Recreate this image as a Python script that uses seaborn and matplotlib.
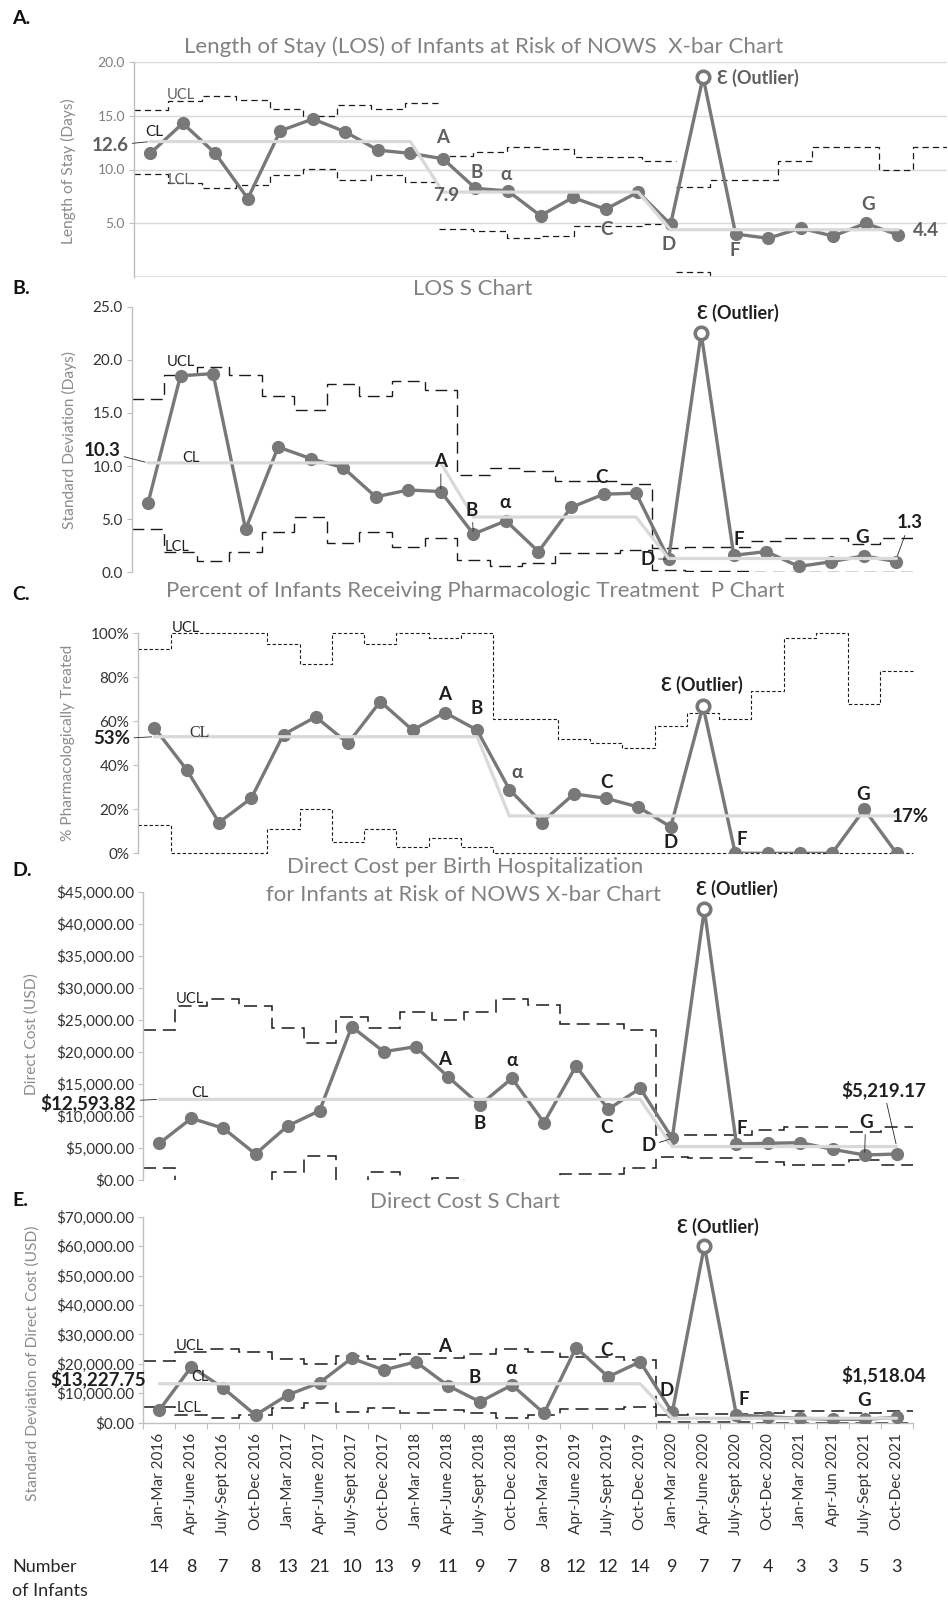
import numpy as np
import pandas as pd
import matplotlib
matplotlib.use("Agg")
import matplotlib.pyplot as plt
import matplotlib.ticker as mticker
import matplotlib.transforms as mtransforms
import seaborn as sns

sns.set_style("white")
plt.rcParams["font.family"] = ["Lato", "DejaVu Sans"]
plt.rcParams["axes.unicode_minus"] = False

# ---------------------------------------------------------------- data
quarters = ["Jan-Mar 2016", "Apr-June 2016", "July-Sept 2016", "Oct-Dec 2016",
            "Jan-Mar 2017", "Apr-June 2017", "July-Sept 2017", "Oct-Dec 2017",
            "Jan-Mar 2018", "Apr-June 2018", "July-Sept 2018", "Oct-Dec 2018",
            "Jan-Mar 2019", "Apr-June 2019", "July-Sept 2019", "Oct-Dec 2019",
            "Jan-Mar 2020", "Apr-June 2020", "July-Sept 2020", "Oct-Dec 2020",
            "Jan-Mar 2021", "Apr-Jun 2021", "July-Sept 2021", "Oct-Dec 2021"]
n_infants = [14, 8, 7, 8, 13, 21, 10, 13, 9, 11, 9, 7, 8, 12, 12, 14, 9, 7, 7, 4, 3, 3, 5, 3]

# A. length of stay, X-bar chart (days)
los_mean = [11.5, 14.3, 11.5, 7.3, 13.6, 14.7, 13.5, 11.8, 11.5, 11.0, 8.25, 8.0,
            5.7, 7.4, 6.3, 7.9, 4.9, 18.6, 4.0, 3.6, 4.55, 3.8, 5.0, 3.9]
los_mean_cl = [12.6, 12.6, 12.6, 12.6, 12.6, 12.6, 12.6, 12.6, 12.6, 7.9, 7.9, 7.9,
               7.9, 7.9, 7.9, 7.9, 4.4, 4.4, 4.4, 4.4, 4.4, 4.4, 4.4, 4.4]
los_mean_ucl = [15.5, 16.4, 16.8, 16.5, 15.6, 15.0, 16.0, 15.6, 16.2, 11.3, 11.6, 12.1,
                11.9, 11.15, 11.15, 10.8, 8.35, 9.0, 9.0, 10.8, 12.1, 12.1, 10.0, 12.1]
los_mean_lcl = [9.6, 8.7, 8.3, 8.6, 9.5, 10.05, 9.05, 9.5, 8.8, 4.45, 4.25, 3.6,
                3.85, 4.7, 4.7, 4.9, 0.5, -0.2, -0.2, -2.0, -3.3, -3.3, -1.2, -3.3]
los_mean_phases = [0, 9, 16, 24]

# B. length of stay, S chart (days)
los_sd = [6.5, 18.5, 18.7, 4.05, 11.8, 10.7, 9.85, 7.1, 7.75, 7.6, 3.6, 4.85,
          1.95, 6.1, 7.35, 7.45, 1.25, 22.5, 1.6, 1.95, 0.55, 1.0, 1.55, 1.0]
los_sd_cl = [10.3, 10.3, 10.3, 10.3, 10.3, 10.3, 10.3, 10.3, 10.3, 10.3, 5.2, 5.2,
             5.2, 5.2, 5.2, 5.2, 1.3, 1.3, 1.3, 1.3, 1.3, 1.3, 1.3, 1.3]
los_sd_ucl = [16.3, 18.6, 19.35, 18.6, 16.6, 15.25, 17.7, 16.6, 18.05, 17.2, 9.2, 9.8,
              9.5, 8.6, 8.6, 8.3, 2.25, 2.4, 2.4, 2.9, 3.2, 3.2, 2.7, 3.2]
los_sd_lcl = [4.1, 1.95, 1.1, 1.95, 3.8, 5.2, 2.8, 3.8, 2.35, 3.25, 1.15, 0.55,
              0.85, 1.8, 1.8, 2.1, 0.2, 0.15, 0.15, 0.0, 0.0, 0.0, 0.0, 0.0]

# C. percent pharmacologically treated, P chart
pct_treated = [57, 38, 14, 25, 54, 62, 50, 69, 56, 64, 56, 29,
               14, 27, 25, 21, 12, 67, 0, 0, 0, 0, 20, 0]
pct_cl = [53, 53, 53, 53, 53, 53, 53, 53, 53, 53, 53, 17,
          17, 17, 17, 17, 17, 17, 17, 17, 17, 17, 17, 17]
pct_ucl = [93, 100, 100, 100, 95, 86, 100, 95, 100, 98, 100, 61,
           61, 52, 50, 48, 58, 64, 61, 74, 98, 100, 68, 83]
pct_lcl = [13, 0, 0, 0, 11, 20, 5, 11, 3, 7, 3, 0,
           0, 0, 0, 0, 0, 0, 0, 0, 0, 0, 0, 0]

# D. direct cost per birth hospitalization, X-bar chart (USD)
cost_mean = [5730, 9630, 8070, 4060, 8430, 10820, 23930, 20030, 20810, 16130, 11710, 15870,
             8950, 17800, 11040, 14310, 6510, 42260, 5620, 5730, 5830, 4790, 3900, 4060]
cost_mean_cl = [12593.82, 12593.82, 12593.82, 12593.82, 12593.82, 12593.82, 12593.82, 12593.82,
                12593.82, 12593.82, 12593.82, 12593.82, 12593.82, 12593.82, 12593.82, 12593.82,
                5219.17, 5219.17, 5219.17, 5219.17, 5219.17, 5219.17, 5219.17, 5219.17]
cost_mean_ucl = [23400, 27100, 28200, 27100, 23800, 21400, 25500, 23800, 26300, 24900, 26300, 28300,
                 27300, 24400, 24400, 23400, 7000, 7000, 7000, 7800, 8300, 8300, 7500, 8300]
cost_mean_lcl = [1800, -1900, -3000, -1900, 1300, 3800, -300, 1300, -1100, 300, -1100, -3000,
                 -1900, 1000, 1000, 1800, 3640, 3380, 3380, 2860, 2340, 2340, 3070, 2340]

# E. direct cost, S chart (USD)
cost_sd = [4300, 19000, 11700, 2600, 9400, 13600, 21900, 17900, 20700, 12600, 7100, 12800,
           3200, 25500, 15600, 20700, 3500, 60000, 2700, 2000, 1500, 1150, 1150, 1800]
cost_sd_cl = [13227.75, 13227.75, 13227.75, 13227.75, 13227.75, 13227.75, 13227.75, 13227.75,
              13227.75, 13227.75, 13227.75, 13227.75, 13227.75, 13227.75, 13227.75, 13227.75,
              1518.04, 1518.04, 1518.04, 1518.04, 1518.04, 1518.04, 1518.04, 1518.04]
cost_sd_ucl = [21100, 24000, 25000, 24000, 21500, 19800, 22800, 21500, 23300, 22100, 23300, 25000,
               24100, 22200, 22200, 21200, 2700, 2900, 2900, 3400, 3900, 3900, 3200, 3900]
cost_sd_lcl = [5400, 2500, 1600, 2500, 5100, 6800, 3800, 5100, 3200, 4300, 3200, 1600,
               2500, 4700, 4700, 5400, 360, 180, 180, 0, 0, 0, 0, 0]

OUTLIER = 17

# ---------------------------------------------------------------- style
W, H, DPI = 948, 1602, 100
PT = 72.0 / DPI
SERIES = "#787878"
CL_GREY = "#d9d9d9"
SPINE = "#bfbfbf"
LIMIT = "#1a1a1a"
INK = "#1f1f1f"
SOFT_INK = "#5f5f5f"
TITLE = "#828282"
LABEL = "#8c8c8c"
TAG = 13.5        # size of the bold point letters
EPS_SIZE = 13

fig = plt.figure(figsize=(W / DPI, H / DPI), dpi=DPI)
fig.patch.set_facecolor("white")


def axes_px(left, right, top, bottom):
    return fig.add_axes([left / W, 1 - bottom / H, (right - left) / W, (bottom - top) / H])


def style_axes(ax, yticks, fmt, tick_color, tick_size, xmax=23.5):
    ax.set_xlim(-0.5, xmax)
    ax.set_yticks(yticks)
    ax.yaxis.set_major_formatter(mticker.FuncFormatter(fmt))
    ax.tick_params(axis="y", colors=SPINE, labelcolor=tick_color, labelsize=tick_size,
                   length=3.5, width=0.8, direction="out", pad=3, left=True)
    ax.tick_params(axis="x", bottom=False, labelbottom=False)
    for side in ("top", "right", "bottom"):
        ax.spines[side].set_visible(False)
    ax.spines["left"].set_color(SPINE)
    ax.spines["left"].set_linewidth(1.0)
    ax.set_xlabel("")
    ax.set_ylabel("")
    ax.grid(False)


def draw_series(ax, values, centre):
    frame = pd.DataFrame({"quarter": np.arange(len(values)), "value": values, "centre": centre})
    sns.lineplot(data=frame, x="quarter", y="value", ax=ax, color=SERIES, linewidth=2.4,
                 marker="o", markersize=9.5, markeredgewidth=0, sort=False, zorder=3)
    sns.lineplot(data=frame, x="quarter", y="centre", ax=ax, color=CL_GREY, linewidth=2.3,
                 sort=False, zorder=4)
    out = frame.iloc[[OUTLIER]]
    ax.plot(out["quarter"], out["value"], ls="none", marker="o", ms=9, mfc="white",
            mec=SERIES, mew=2.6, zorder=5)
    ax.set_xlabel("")
    ax.set_ylabel("")


def draw_limits(ax, upper, lower, style, phases=None, offset=-0.5, clip=True):
    if phases is None:
        phases = [0, len(upper)]
    for a, b in zip(phases[:-1], phases[1:]):
        edges = np.arange(a, b + 1) + offset
        for lim in (upper, lower):
            ax.stairs(lim[a:b], edges, baseline=None, color=LIMIT, clip_on=clip,
                      zorder=2, **style)


def note(ax, text, xy, dx, dy, color=INK, size=TAG, weight="bold", ha="center",
         leader=False, family=None):
    props = None
    if leader:
        props = dict(arrowstyle="-", color="#262626", lw=0.6, shrinkA=0.5, shrinkB=2)
    kw = {}
    if family is not None:
        kw["family"] = family
    ax.annotate(text, xy=xy, xytext=(dx * PT, -dy * PT), textcoords="offset points",
                ha=ha, va="center", color=color, fontsize=size, fontweight=weight,
                arrowprops=props, annotation_clip=False, zorder=6, **kw)


def one_dec(v, _):
    return f"{v:.1f}"


def dollars(v, _):
    return f"${v:,.2f}"


def percent(v, _):
    return f"{v:.0f}%"


EPS = "\u0190 (Outlier)"

# ---------------------------------------------------------------- A
axA = axes_px(134, 947, 62, 277)
limA = axA.twiny()
limA.set_xlim(0, 24)
limA.axis("off")
axA.set_zorder(limA.get_zorder() + 1)
axA.patch.set_visible(False)
draw_series(axA, los_mean, los_mean_cl)
draw_limits(limA, los_mean_ucl, los_mean_lcl,
            dict(linewidth=0.9, linestyle=(0, (5, 3.3))), phases=los_mean_phases, offset=0)
style_axes(axA, [5, 10, 15, 20], one_dec, "#7f7f7f", 10, xmax=24.5)
axA.set_ylim(0, 20)
# gridlines sit on the limit layer, underneath the dashed limits
for g in (5, 10, 15, 20):
    limA.axhline(g, color=CL_GREY, lw=1.0, zorder=0)
limA.axhline(0, color=CL_GREY, lw=1.2, zorder=0)
note(axA, "12.6", (0, los_mean_cl[0]), -22, 4, color=SOFT_INK, size=13.5, ha="right", leader=True)
note(axA, "CL", (0, los_mean_cl[0]), 4, -10, color=INK, size=11, weight="normal")
note(axA, "UCL", (1, los_mean_ucl[1]), -2, -5.5, color=SOFT_INK, size=10.5, weight="normal")
note(axA, "LCL", (1, los_mean_lcl[1]), -3, -3, color=SOFT_INK, size=10.5, weight="normal")
note(axA, "A", (9, los_mean[9]), 0, -21, color=SOFT_INK)
note(axA, "B", (10, los_mean[10]), 1.5, -16, color=SOFT_INK)
note(axA, "\u03b1", (11, los_mean[11]), -2, -17, color=SOFT_INK)
note(axA, "C", (14, los_mean[14]), 1, 20, color=SOFT_INK)
note(axA, "D", (16, los_mean[16]), -2, 20, color=SOFT_INK)
note(axA, "F", (18, los_mean[18]), -1, 16, color=SOFT_INK)
note(axA, "G", (22, los_mean[22]), 2, -18.5, color=SOFT_INK)
note(axA, EPS, (OUTLIER, los_mean[OUTLIER]), 14, 1, color=SOFT_INK, size=EPS_SIZE, ha="left")
note(axA, "7.9", (9, los_mean_cl[9]), 3, 3, color=SOFT_INK, size=13.5)
note(axA, "4.4", (23, los_mean_cl[23]), 15, 1, color=SOFT_INK, size=13.5, ha="left")

# ---------------------------------------------------------------- B
axB = axes_px(131.7, 912.7, 306.7, 572.3)
draw_limits(axB, los_sd_ucl, los_sd_lcl, dict(linewidth=1.0, linestyle=(0, (8.5, 4.7))))
draw_series(axB, los_sd, los_sd_cl)
style_axes(axB, [0, 5, 10, 15, 20, 25], one_dec, "#333333", 11)
axB.set_ylim(0, 25)
note(axB, "10.3", (0, los_sd_cl[0]), -27.7, -12, size=13.5, ha="right", leader=True)
note(axB, "CL", (1, los_sd_cl[1]), 10, -5, size=10.5, weight="normal")
note(axB, "UCL", (1, los_sd_ucl[1]), 0, -13, size=10.5, weight="normal")
note(axB, "LCL", (1, los_sd_lcl[1]), -3, -5, size=10.5, weight="normal")
note(axB, "A", (9, los_sd[9]), 0, -30, leader=True)
note(axB, "B", (10, los_sd[10]), -1.5, -24, leader=True)
note(axB, "\u03b1", (11, los_sd[11]), -0.5, -18)
note(axB, "C", (14, los_sd[14]), -2, -16.5)
note(axB, "D", (16, los_sd[16]), -21, 0, leader=True)
note(axB, EPS, (OUTLIER, los_sd[OUTLIER]), 37, -20, size=EPS_SIZE)
note(axB, "F", (18, los_sd[18]), 5.5, -16)
note(axB, "G", (22, los_sd[22]), -2, -18)
note(axB, "1.3", (23, los_sd_cl[23]), 13, -35.5, size=13.5, leader=True)

# ---------------------------------------------------------------- C
axC = axes_px(138.3, 912.7, 633.3, 853.3)
draw_limits(axC, pct_ucl, pct_lcl, dict(linewidth=0.8, linestyle=(0, (3, 2))), clip=False)
draw_series(axC, pct_treated, pct_cl)
style_axes(axC, [0, 20, 40, 60, 80, 100], percent, "#333333", 11)
axC.set_ylim(0, 100)
note(axC, "53%", (0, pct_cl[0]), -24.4, 2.3, size=13.5, ha="right", leader=True)
note(axC, "CL", (1, pct_cl[1]), 13, -4, size=11.5, weight="normal", family="Liberation Serif",
     color="#333333")
note(axC, "UCL", (1, pct_ucl[1]), -0.7, -5, size=10.5, weight="normal")
note(axC, "A", (9, pct_treated[9]), 0, -17.5)
note(axC, "B", (10, pct_treated[10]), 0, -22)
note(axC, "\u03b1", (11, pct_treated[11]), 8, -16.5, color="#555555")
note(axC, "C", (14, pct_treated[14]), 0, -16)
note(axC, "D", (16, pct_treated[16]), 0, 16)
note(axC, EPS, (OUTLIER, pct_treated[OUTLIER]), -1, -21, size=EPS_SIZE)
note(axC, "F", (18, pct_treated[18]), 6.5, -14)
note(axC, "G", (22, pct_treated[22]), -1, -15)
note(axC, "17%", (23, pct_cl[23]), -5, 1, size=13.5, ha="left")

# ---------------------------------------------------------------- D
axD = axes_px(143.3, 912.7, 891.7, 1180)
draw_limits(axD, cost_mean_ucl, cost_mean_lcl, dict(linewidth=1.1, linestyle=(0, (8.5, 4.5))))
draw_series(axD, cost_mean, cost_mean_cl)
style_axes(axD, list(range(0, 45001, 5000)), dollars, "#333333", 11)
axD.set_ylim(0, 45000)
note(axD, "$12,593.82", (0, cost_mean_cl[0]), -23, 3.4, size=13.5, ha="right", leader=True)
note(axD, "CL", (1, cost_mean_cl[1]), 9, -6.6, size=10.5, weight="normal")
note(axD, "UCL", (1, cost_mean_ucl[1]), -1.5, -7.5, size=10.5, weight="normal")
note(axD, "A", (9, cost_mean[9]), -3.7, -17.4)
note(axD, "B", (10, cost_mean[10]), 0, 19)
note(axD, "\u03b1", (11, cost_mean[11]), 0, -17.6)
note(axD, "C", (14, cost_mean[14]), -2, 18)
note(axD, "D", (16, cost_mean[16]), -24, 7.7, leader=True)
note(axD, EPS, (OUTLIER, cost_mean[OUTLIER]), 33, -20, size=EPS_SIZE)
note(axD, "F", (18, cost_mean[18]), 5.7, -15.7)
note(axD, "G", (22, cost_mean[22]), 1, -33, leader=True)
note(axD, "$5,219.17", (23, cost_mean_cl[23]), -13, -56.6, size=13.5, leader=True)

# ---------------------------------------------------------------- E
axE = axes_px(143.3, 912.7, 1216.7, 1422.7)
draw_limits(axE, cost_sd_ucl, cost_sd_lcl, dict(linewidth=1.1, linestyle=(0, (8.5, 4.5))))
draw_series(axE, cost_sd, cost_sd_cl)
style_axes(axE, list(range(0, 70001, 10000)), dollars, "#333333", 11)
axE.set_ylim(0, 70000)
axE.spines["bottom"].set_visible(True)
axE.spines["bottom"].set_color(SPINE)
axE.spines["bottom"].set_linewidth(1.0)
axE.set_xticks(np.arange(len(quarters)))
axE.set_xticklabels(quarters, rotation=90, fontsize=11, color="#333333")
axE.set_xticks(np.arange(len(quarters) + 1) - 0.5, minor=True)
axE.tick_params(axis="x", which="major", bottom=True, labelbottom=True, length=0, pad=7.5)
axE.tick_params(axis="x", which="minor", bottom=True, length=4, width=0.8, color=SPINE,
                direction="out")
note(axE, "$13,227.75", (0, cost_sd_cl[0]), -13.3, -4.8, size=13.5, ha="right")
note(axE, "CL", (1, cost_sd_cl[1]), 8.5, -7, size=10.5, weight="normal")
note(axE, "UCL", (1, cost_sd_ucl[1]), -1.5, -6.4, size=10.5, weight="normal")
note(axE, "LCL", (1, cost_sd_lcl[1]), -2.5, -7, size=10.5, weight="normal")
note(axE, "A", (9, cost_sd[9]), -3.7, -39)
note(axE, "B", (10, cost_sd[10]), -5, -24)
note(axE, "\u03b1", (11, cost_sd[11]), -1, -17)
note(axE, "C", (14, cost_sd[14]), -2, -26)
note(axE, "D", (16, cost_sd[16]), -6, -22)
note(axE, EPS, (OUTLIER, cost_sd[OUTLIER]), 13.5, -19.4, size=EPS_SIZE)
note(axE, "F", (18, cost_sd[18]), 7, -15)
note(axE, "G", (22, cost_sd[22]), -1, -19)
note(axE, "$1,518.04", (23, cost_sd_cl[23]), -13, -43, size=13.5)

# ---------------------------------------------------------------- figure text
def ftext(x, y, s, **kw):
    fig.text(x / W, 1 - y / H, s, **kw)


for letter, y in (("A.", 18), ("B.", 288), ("C.", 595), ("D.", 870), ("E.", 1200)):
    ftext(12, y, letter, fontsize=14, fontweight="bold", color="#111111", va="center")

title_kw = dict(fontsize=16, color=TITLE, ha="center", va="center")
ftext(484, 46.5, "Length of Stay (LOS) of Infants at Risk of NOWS  X-bar Chart", **title_kw)
ftext(473, 289, "LOS S Chart", **title_kw)
ftext(475, 591.5, "Percent of Infants Receiving Pharmacologic Treatment  P Chart", **title_kw)
ftext(465, 866.5, "Direct Cost per Birth Hospitalization", **title_kw)
ftext(464, 895, "for Infants at Risk of NOWS X-bar Chart", **title_kw)
ftext(465, 1201.5, "Direct Cost S Chart", **title_kw)

ylab_kw = dict(fontsize=11.2, color=LABEL, rotation=90, ha="center", va="center")
ftext(68, 171, "Length of Stay (Days)", **ylab_kw)
ftext(69, 440, "Standard Deviation (Days)", **ylab_kw)
ftext(68, 743, "% Pharmacologically Treated", **ylab_kw)
ftext(32, 1034, "Direct Cost (USD)", **ylab_kw)
ftext(33, 1363, "Standard Deviation of Direct Cost (USD)", **ylab_kw)

ftext(12, 1566.5, "Number", fontsize=13, color="#262626", va="center")
ftext(12, 1591.5, "of Infants", fontsize=13, color="#262626", va="center")
count_tr = mtransforms.blended_transform_factory(axE.transData, fig.transFigure)
for i, n in enumerate(n_infants):
    axE.text(i, 1 - 1566.5 / H, str(n), transform=count_tr, ha="center", va="center",
             fontsize=13, color="#262626", clip_on=False)

fig.savefig("out.png", dpi=DPI, facecolor="white")
